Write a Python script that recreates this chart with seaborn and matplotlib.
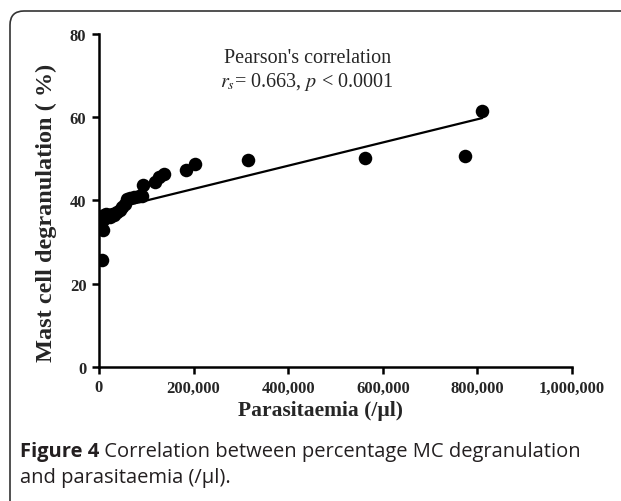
import numpy as np
import pandas as pd
import matplotlib
matplotlib.use("Agg")
import matplotlib.pyplot as plt
import matplotlib.transforms as mtransforms
from matplotlib.patches import FancyBboxPatch
from matplotlib.ticker import FuncFormatter
import seaborn as sns

# Values
parasitaemia = [6000, 7800, 9000, 10000, 14000, 24000, 31000, 38000, 44000, 49000,
                55000, 59000, 66000, 73000, 85000, 91000, 92000, 119000, 126000,
                137000, 183000, 203000, 315000, 562000, 774000, 810000]
degranulation = [25.6, 32.8, 35.2, 36.4, 36.8, 36.0, 36.6, 37.2, 37.8, 38.4,
                 39.2, 40.4, 40.6, 40.8, 41.0, 41.2, 43.8, 44.4, 45.6,
                 46.4, 47.3, 48.8, 49.8, 50.3, 50.8, 61.4]

# regression line end points as drawn
fit_x = [0, 810000]
fit_y = [37.2, 59.8]

x_ticks = [0, 200000, 400000, 600000, 800000, 1000000]
y_ticks = [0, 20, 40, 60, 80]

df = pd.DataFrame({"x": parasitaemia, "y": degranulation})
fit = pd.DataFrame({"x": fit_x, "y": fit_y})

sns.set_style("ticks")
plt.rcParams["font.family"] = ["Liberation Serif", "DejaVu Serif"]
plt.rcParams["mathtext.fontset"] = "stix"

fig = plt.figure(figsize=(6.21, 5.02), dpi=100)
ax = fig.add_axes([99 / 621, 1 - 368 / 502, 473 / 621, 333 / 502])

sns.lineplot(data=fit, x="x", y="y", ax=ax, color="black", linewidth=1.6)
sns.scatterplot(data=df, x="x", y="y", ax=ax, color="black", s=95,
                edgecolor="black", linewidth=0, zorder=3)

ax.set_xlim(0, 1000000)
ax.set_ylim(0, 80)
ax.set_xticks(x_ticks)
ax.set_yticks(y_ticks)
ax.xaxis.set_major_formatter(FuncFormatter(lambda v, p: f"{int(v):,}"))
for lab in ax.get_xticklabels() + ax.get_yticklabels():
    lab.set_fontweight("bold")
    lab.set_fontsize(12)
ax.tick_params(direction="out", length=5, width=1.8, color="black", pad=4)
for s in ["left", "bottom"]:
    ax.spines[s].set_linewidth(1.8)
    ax.spines[s].set_color("black")
sns.despine(ax=ax)

ax.set_xlabel("Parasitaemia (/µl)", fontsize=15.5, fontweight="bold")
ax.set_ylabel("Mast cell degranulation ( %)", fontsize=17.5, fontweight="bold")
ax.xaxis.set_label_coords((320 - 99) / 473, -0.1)
ax.yaxis.set_label_coords(-0.089, 0.467)

ax.text(0.44, 0.93, "Pearson's correlation", transform=ax.transAxes,
        ha="center", va="center", fontsize=14.5)
ax.text(0.44, 0.858, r"$r_s$= 0.663, $p$ < 0.0001", transform=ax.transAxes,
        ha="center", va="center", fontsize=14.5)

# rounded frame, open to the right and bottom
frame = FancyBboxPatch((10, -60), 700, 550, boxstyle="round,pad=0,rounding_size=14",
                       transform=mtransforms.IdentityTransform(), fill=False,
                       edgecolor="#333333", linewidth=1.2)
fig.patches.append(frame)

cap_color = "#231f20"
t1 = fig.text(20 / 621, 1 - 452 / 502, "Figure 4", fontfamily="Open Sans",
              fontweight="bold", fontsize=14.5, color=cap_color, va="center")
ax.annotate(" Correlation between percentage MC degranulation", xy=(1, 0.5),
            xycoords=t1, va="center", fontfamily="Open Sans", fontsize=14.5,
            color=cap_color, annotation_clip=False)
fig.text(20 / 621, 1 - 478 / 502, "and parasitaemia (/µl).", fontfamily="Open Sans",
         fontsize=14.5, color=cap_color, va="center")

fig.savefig("out.png", dpi=100)
